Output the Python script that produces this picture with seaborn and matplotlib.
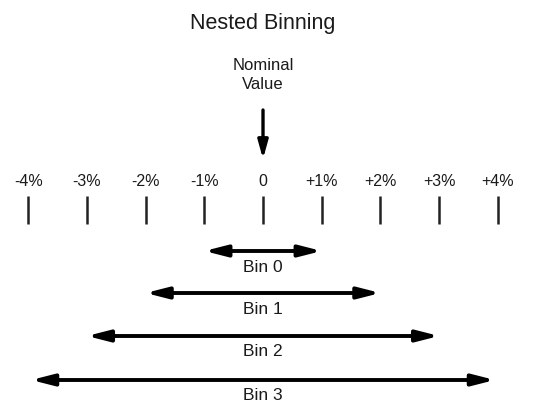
import matplotlib
matplotlib.use("Agg")
import matplotlib.pyplot as plt
import seaborn as sns
import pandas as pd

# tick positions (percent) and their labels
tick_pos = [-4, -3, -2, -1, 0, 1, 2, 3, 4]
tick_labels = ["-4%", "-3%", "-2%", "-1%", "0", "+1%", "+2%", "+3%", "+4%"]

# nested bins: half-width of each bin (percent)
bin_names = ["Bin 0", "Bin 1", "Bin 2", "Bin 3"]
bin_half = [1.0, 2.0, 3.0, 3.95]


def generate_binning_plot():
    sns.set_theme(style="white")
    plt.rcParams['font.family'] = ['Liberation Sans', 'DejaVu Sans']

    fig = plt.figure(figsize=(5.36, 4.03), dpi=100)
    ax = fig.add_axes([0, 0, 1, 1])
    # x in percent, y in pixel rows from the top
    ax.set_xlim(-4.48, 4.65)
    ax.set_ylim(403, 0)
    ax.axis("off")

    ax.text(0, 24, "Nested Binning", ha="center", va="center", fontsize=15.5, color="#1a1a1a")
    ax.text(0, 75, "Nominal\nValue", ha="center", va="center", fontsize=12,
            color="#1a1a1a", linespacing=1.35)
    ax.annotate("", xy=(0, 159), xytext=(0, 110),
                arrowprops=dict(arrowstyle="-|>,head_length=0.9,head_width=0.25",
                                color="black", lw=2.4, shrinkA=0, shrinkB=0))

    for p, lab in zip(tick_pos, tick_labels):
        ax.text(p, 182, lab, ha="center", va="center", fontsize=11.5, color="#1a1a1a")

    ticks = pd.DataFrame({"x": tick_pos, "y": [210] * len(tick_pos)})
    sns.scatterplot(data=ticks, x="x", y="y", marker="|", s=380, linewidth=1.8,
                    color="#222222", ax=ax, legend=False)

    arrow_y = [251, 293, 336, 380]
    for name, h, y in zip(bin_names, bin_half, arrow_y):
        ax.annotate("", xy=(h, y), xytext=(-h, y),
                    arrowprops=dict(arrowstyle="<|-|>,head_length=1.1,head_width=0.28",
                                    color="black", lw=2.8, shrinkA=0, shrinkB=0))
        ax.text(0, y + 16, name, ha="center", va="center", fontsize=12.5, color="#1a1a1a")

    ax.set_xlim(-4.48, 4.65)
    ax.set_ylim(403, 0)
    fig.savefig("out.png", dpi=100)


if __name__ == "__main__":
    generate_binning_plot()
